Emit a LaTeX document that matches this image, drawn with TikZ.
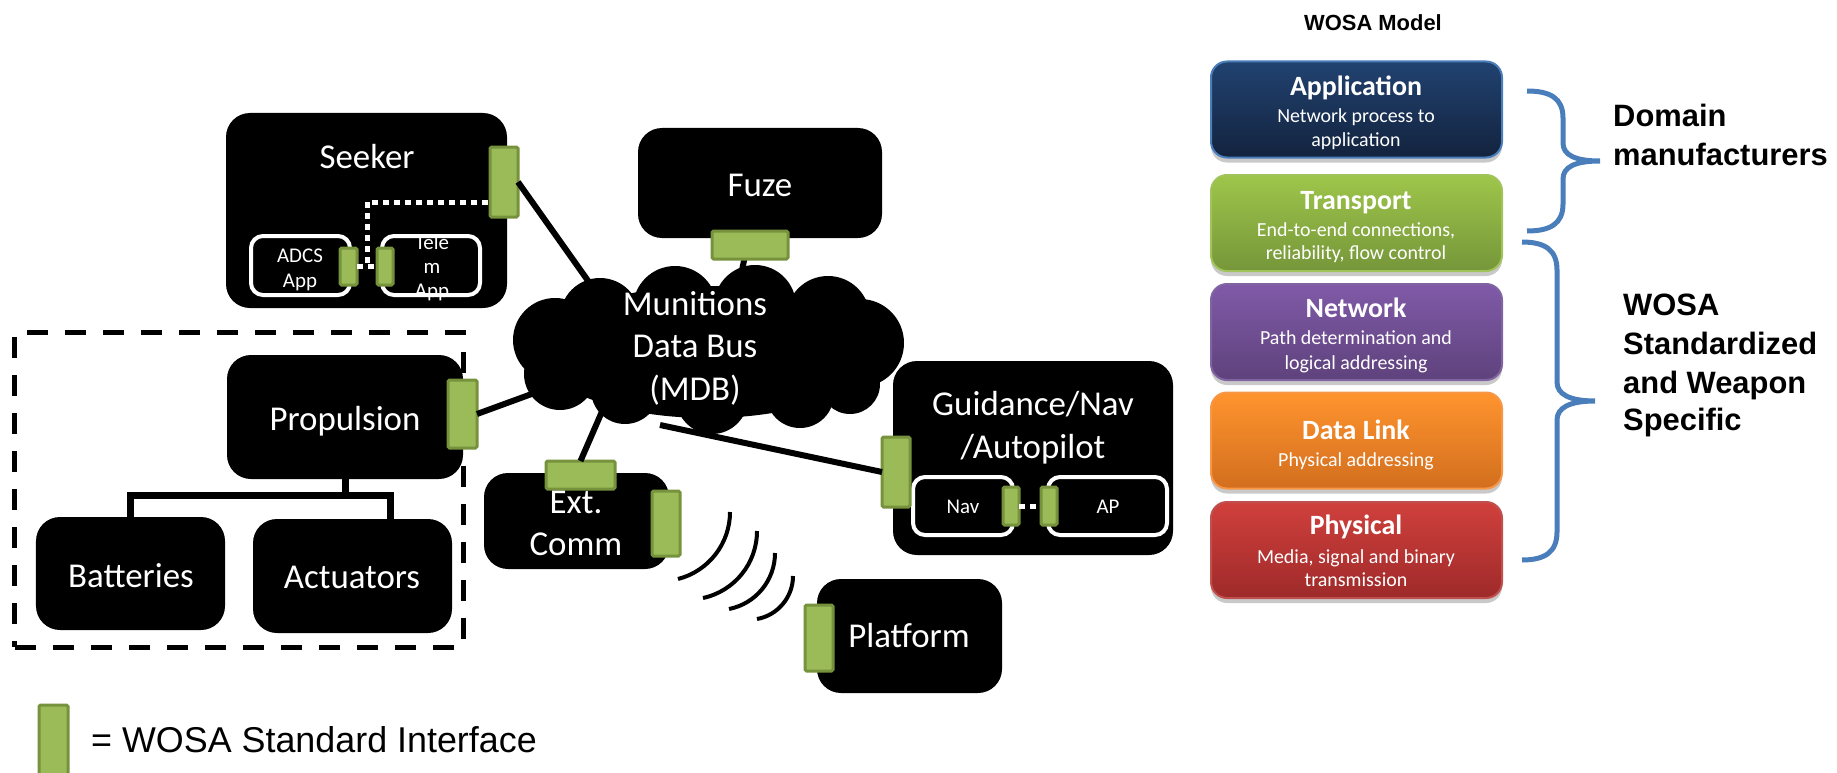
\documentclass[tikz,border=0pt]{standalone}
\usepackage{fontspec}
\setmainfont{Carlito}
\newfontfamily\arialfont{Liberation Sans}
\usetikzlibrary{shadows,calc}

\definecolor{ifill}{RGB}{155,187,89}
\definecolor{idraw}{RGB}{118,146,60}
\definecolor{bracec}{RGB}{74,126,187}
\definecolor{appT}{RGB}{33,66,112}
\definecolor{appB}{RGB}{19,35,62}
\definecolor{appD}{RGB}{74,126,187}
\definecolor{traT}{RGB}{158,198,74}
\definecolor{traB}{RGB}{118,150,58}
\definecolor{traD}{RGB}{160,196,90}
\definecolor{netT}{RGB}{128,90,168}
\definecolor{netB}{RGB}{94,66,124}
\definecolor{netD}{RGB}{128,100,162}
\definecolor{dlT}{RGB}{255,148,46}
\definecolor{dlB}{RGB}{210,110,30}
\definecolor{dlD}{RGB}{247,150,70}
\definecolor{phT}{RGB}{208,64,60}
\definecolor{phB}{RGB}{158,42,42}
\definecolor{phD}{RGB}{192,80,77}

\begin{document}
\begin{tikzpicture}[x=1bp,y=-1bp,
  blk/.style={fill=black, rounded corners=24bp, inner sep=0pt, outer sep=0pt},
  sub/.style={fill=black, draw=white, line width=4bp, rounded corners=12bp, inner sep=0pt, outer sep=0pt},
  wi/.style={fill=ifill, draw=idraw, line width=3bp, rounded corners=1.5bp, inner sep=0pt, outer sep=0pt},
  bus/.style={line width=6bp, black},
  tree/.style={line width=7bp, black},
  wave/.style={line width=4bp, black},
  group/.style={draw=black, line width=5bp, dash pattern=on 21bp off 17bp, inner sep=0pt},
  dotw/.style={white, line width=5bp, dash pattern=on 6bp off 5bp},
  big/.style={text=white, inner sep=0pt, anchor=base, font=\fontsize{35}{42}\selectfont},
  small/.style={text=white, inner sep=0pt, anchor=base, font=\fontsize{21}{25}\selectfont},
  layer/.style={rounded corners=16bp, line width=2bp, inner sep=0pt, outer sep=0pt,
    minimum width=291bp, minimum height=96bp,
    drop shadow={shadow xshift=0bp, shadow yshift=-5bp, opacity=.3, fill=black!70}},
  ltitle/.style={text=white, inner sep=0pt, anchor=base, font=\fontsize{28}{34}\selectfont\bfseries},
  ltext/.style={text=white, inner sep=0pt, anchor=base, font=\fontsize{20}{24}\selectfont},
  side/.style={inner sep=0pt, anchor=base west, font=\arialfont\fontsize{31}{38}\selectfont\bfseries},
  brace/.style={draw=bracec, line width=5bp},
]
\useasboundingbox (0,0) rectangle (1837,773);

% ---------- dashed group around propulsion subsystem
\node[group, minimum width=448bp, minimum height=315bp] (grp) at (239,489.5) {};

% ---------- component boxes
\node[blk, minimum width=281bp, minimum height=195bp] (seeker) at (366.5,210.5) {};
\node[blk, minimum width=244bp, minimum height=110bp] (fuze) at (760,183) {};
\node[blk, minimum width=236bp, minimum height=124bp] (prop) at (345,417) {};
\node[blk, minimum width=189bp, minimum height=113bp] (batt) at (130.5,573.5) {};
\node[blk, minimum width=199bp, minimum height=114bp] (act) at (352.5,576) {};
\node[blk, minimum width=185bp, minimum height=96bp] (ext) at (576.5,521) {};
\node[blk, minimum width=280bp, minimum height=194bp] (guid) at (1033,458) {};
\node[blk, minimum width=185bp, minimum height=114bp] (plat) at (909.5,636) {};

% ---------- propulsion tree
\coordinate (split) at ($(prop.south)+(0,16)$);
\draw[tree] (prop.south) -- (split);
\draw[tree] (batt.north) |- (split) -| ($(act.north)+(38,0)$);

% ---------- inner application boxes
\node[sub, minimum width=99bp, minimum height=59bp] (adcs) at (300.5,265.5) {};
\node[sub, minimum width=98bp, minimum height=59bp] (telem) at (431,265.5) {};
\node[sub, minimum width=100bp, minimum height=58bp] (nav) at (963,506) {};
\node[sub, minimum width=119bp, minimum height=58bp] (ap) at (1107.5,506) {};

% ---------- WOSA interfaces
\node[wi, minimum width=28bp, minimum height=70bp] (seekerI) at (504,182) {};
\node[wi, minimum width=17bp, minimum height=37bp] (adcsI) at (348.5,266.5) {};
\node[wi, minimum width=16bp, minimum height=37bp] (telemI) at (385,266.5) {};
\node[wi, minimum width=29bp, minimum height=68bp] (propI) at (462.5,414) {};
\node[wi, minimum width=69bp, minimum height=28bp] (extTopI) at (580.5,475) {};
\node[wi, minimum width=28bp, minimum height=65bp] (extRightI) at (666,523.5) {};
\node[wi, minimum width=28bp, minimum height=70bp] (guidI) at (896,472) {};
\node[wi, minimum width=16bp, minimum height=38bp] (navI) at (1011,506) {};
\node[wi, minimum width=16bp, minimum height=38bp] (apI) at (1049,506) {};
\node[wi, minimum width=28bp, minimum height=66bp] (platI) at (819,638) {};

% ---------- internal dotted links
\coordinate (junc) at ($(adcsI.east)!0.5!(telemI.west)$);
\draw[dotw] ($(seekerI.west)+(-2,20)$) -| (junc);
\draw[dotw] (adcsI.east) -- (telemI.west);
\draw[dotw] (navI.east) -- (apI.west);

% ---------- links to the data bus (ends hidden under the cloud)
\coordinate (fuzeTop) at (750,231);
\coordinate (busS) at (630,340);
\coordinate (busF) at (736,300);
\coordinate (busP) at (600,369);
\coordinate (busE) at (607,400);
\coordinate (busG) at (660,425);
\draw[bus] (seekerI.east) -- (busS);
\draw[bus] (fuzeTop) -- (busF);
\draw[bus] (propI.east) -- (busP);
\draw[bus] (extTopI.north) -- (busE);
\draw[bus] (busG) -- (guidI.west);

% ---------- munitions data bus: a cloud built from overlapping puffs
\begin{scope}[fill=black]
  \fill (708,352) ellipse[x radius=168bp, y radius=66bp];
  \fill (600,318) circle[radius=40bp];
  \fill (675,308) circle[radius=42bp];
  \fill (755,306) circle[radius=41bp];
  \fill (828,318) circle[radius=42bp];
  \fill (860,343) circle[radius=44bp];
  \fill (850,384) circle[radius=30bp];
  \fill (800,394) circle[radius=34bp];
  \fill (712,398) circle[radius=36bp];
  \fill (625,390) circle[radius=34bp];
  \fill (560,374) circle[radius=36bp];
  \fill (555,340) circle[radius=42bp];
\end{scope}
\node[big] (mdbA) at (695,315) {Munitions};
\node[big] (mdbB) at (695,357) {Data Bus};
\node[big] (mdbC) at (695,400) {(MDB)};

% ---------- fuze interface (drawn over its link)
\node[wi, minimum width=76bp, minimum height=28bp] (fuzeI) at (750,245) {};

% ---------- radio link
\draw[wave] (730,512) .. controls (730,543.6) and (708.6,571.1) .. (678,579);
\draw[wave] (757,531) .. controls (757,563.3) and (734.6,591.1) .. (703,598);
\draw[wave] (775,553) .. controls (775,580.3) and (755.8,603.7) .. (729,609);
\draw[wave] (793,576) .. controls (793,597.1) and (777.8,615.3) .. (757,619);

% ---------- labels
\node[big] (seekerL) at (367,168) {Seeker};
\node[small] (adcsL1) at (300,262) {ADCS};
\node[small] (adcsL2) at (300,287) {App};
\node[small] (telemL1) at (432,249) {Tele};
\node[small] (telemL2) at (432,273) {m};
\node[small] (telemL3) at (432,297) {App};
\node[big] (fuzeL) at (760,196) {Fuze};
\node[big] (propL) at (345,430) {Propulsion};
\node[big] (battL) at (131,587) {Batteries};
\node[big] (actL) at (352,588) {Actuators};
\node[big] (extL1) at (576,513) {Ext.};
\node[big] (extL2) at (576,555) {Comm};
\node[big] (guidL1) at (1033,415) {Guidance/Nav};
\node[big] (guidL2) at (1033,458) {/Autopilot};
\node[small] (navL) at (963,513) {Nav};
\node[small] (apL) at (1108,513) {AP};
\node[big] (platL) at (909,647) {Platform};

% ---------- legend
\node[wi, minimum width=29bp, minimum height=70bp] (legI) at (53.5,740) {};
\node[inner sep=0pt, anchor=base west, font=\arialfont\fontsize{36}{43}\selectfont] (legL) at (91,752) {= WOSA Standard Interface};

% ---------- WOSA model stack
\node[inner sep=0pt, anchor=base, font=\arialfont\fontsize{22}{26}\selectfont\bfseries] (title) at (1373,31) {WOSA Model};

\node[layer, top color=appT, bottom color=appB, draw=appD] (app) at (1356.5,109.5) {};
\node[layer, top color=traT, bottom color=traB, draw=traD] (tra) at (1356.5,223) {};
\node[layer, top color=netT, bottom color=netB, draw=netD] (net) at (1356.5,332) {};
\node[layer, top color=dlT, bottom color=dlB, draw=dlD] (dl) at (1356.5,440.5) {};
\node[layer, top color=phT, bottom color=phB, draw=phD] (ph) at (1356.5,550) {};

\node[ltitle] (appL) at (1356,95) {Application};
\node[ltext] (appS1) at (1356,122) {Network process to};
\node[ltext] (appS2) at (1356,146) {application};
\node[ltitle] (traL) at (1356,209) {Transport};
\node[ltext] (traS1) at (1356,236) {End-to-end connections,};
\node[ltext] (traS2) at (1356,259) {reliability, flow control};
\node[ltitle] (netL) at (1356,317) {Network};
\node[ltext] (netS1) at (1356,344) {Path determination and};
\node[ltext] (netS2) at (1356,369) {logical addressing};
\node[ltitle] (dlL) at (1356,439) {Data Link};
\node[ltext] (dlS1) at (1356,466) {Physical addressing};
\node[ltitle] (phL) at (1356,534) {Physical};
\node[ltext] (phS1) at (1356,563) {Media, signal and binary};
\node[ltext] (phS2) at (1356,586) {transmission};

% ---------- braces and their captions
\draw[brace] (1527,91) .. controls (1550,91) and (1563,98) .. (1563,118) -- (1563,143)
  .. controls (1563,155) and (1575,161) .. (1600,161)
  .. controls (1575,161) and (1563,167) .. (1563,179) -- (1563,204)
  .. controls (1563,224) and (1550,231) .. (1527,231);
\draw[brace] (1522,242) .. controls (1545,242) and (1557,250) .. (1557,270) -- (1557,382)
  .. controls (1557,394) and (1569,401) .. (1595,401)
  .. controls (1569,401) and (1557,408) .. (1557,420) -- (1557,532)
  .. controls (1557,552) and (1545,560) .. (1522,560);

\node[side] (domA) at (1613,126) {Domain};
\node[side] (domB) at (1613,165) {manufacturers};
\node[side] (stdA) at (1623,315) {WOSA};
\node[side] (stdB) at (1623,354) {Standardized};
\node[side] (stdC) at (1623,393) {and Weapon};
\node[side] (stdD) at (1623,430) {Specific};
\end{tikzpicture}
\end{document}
